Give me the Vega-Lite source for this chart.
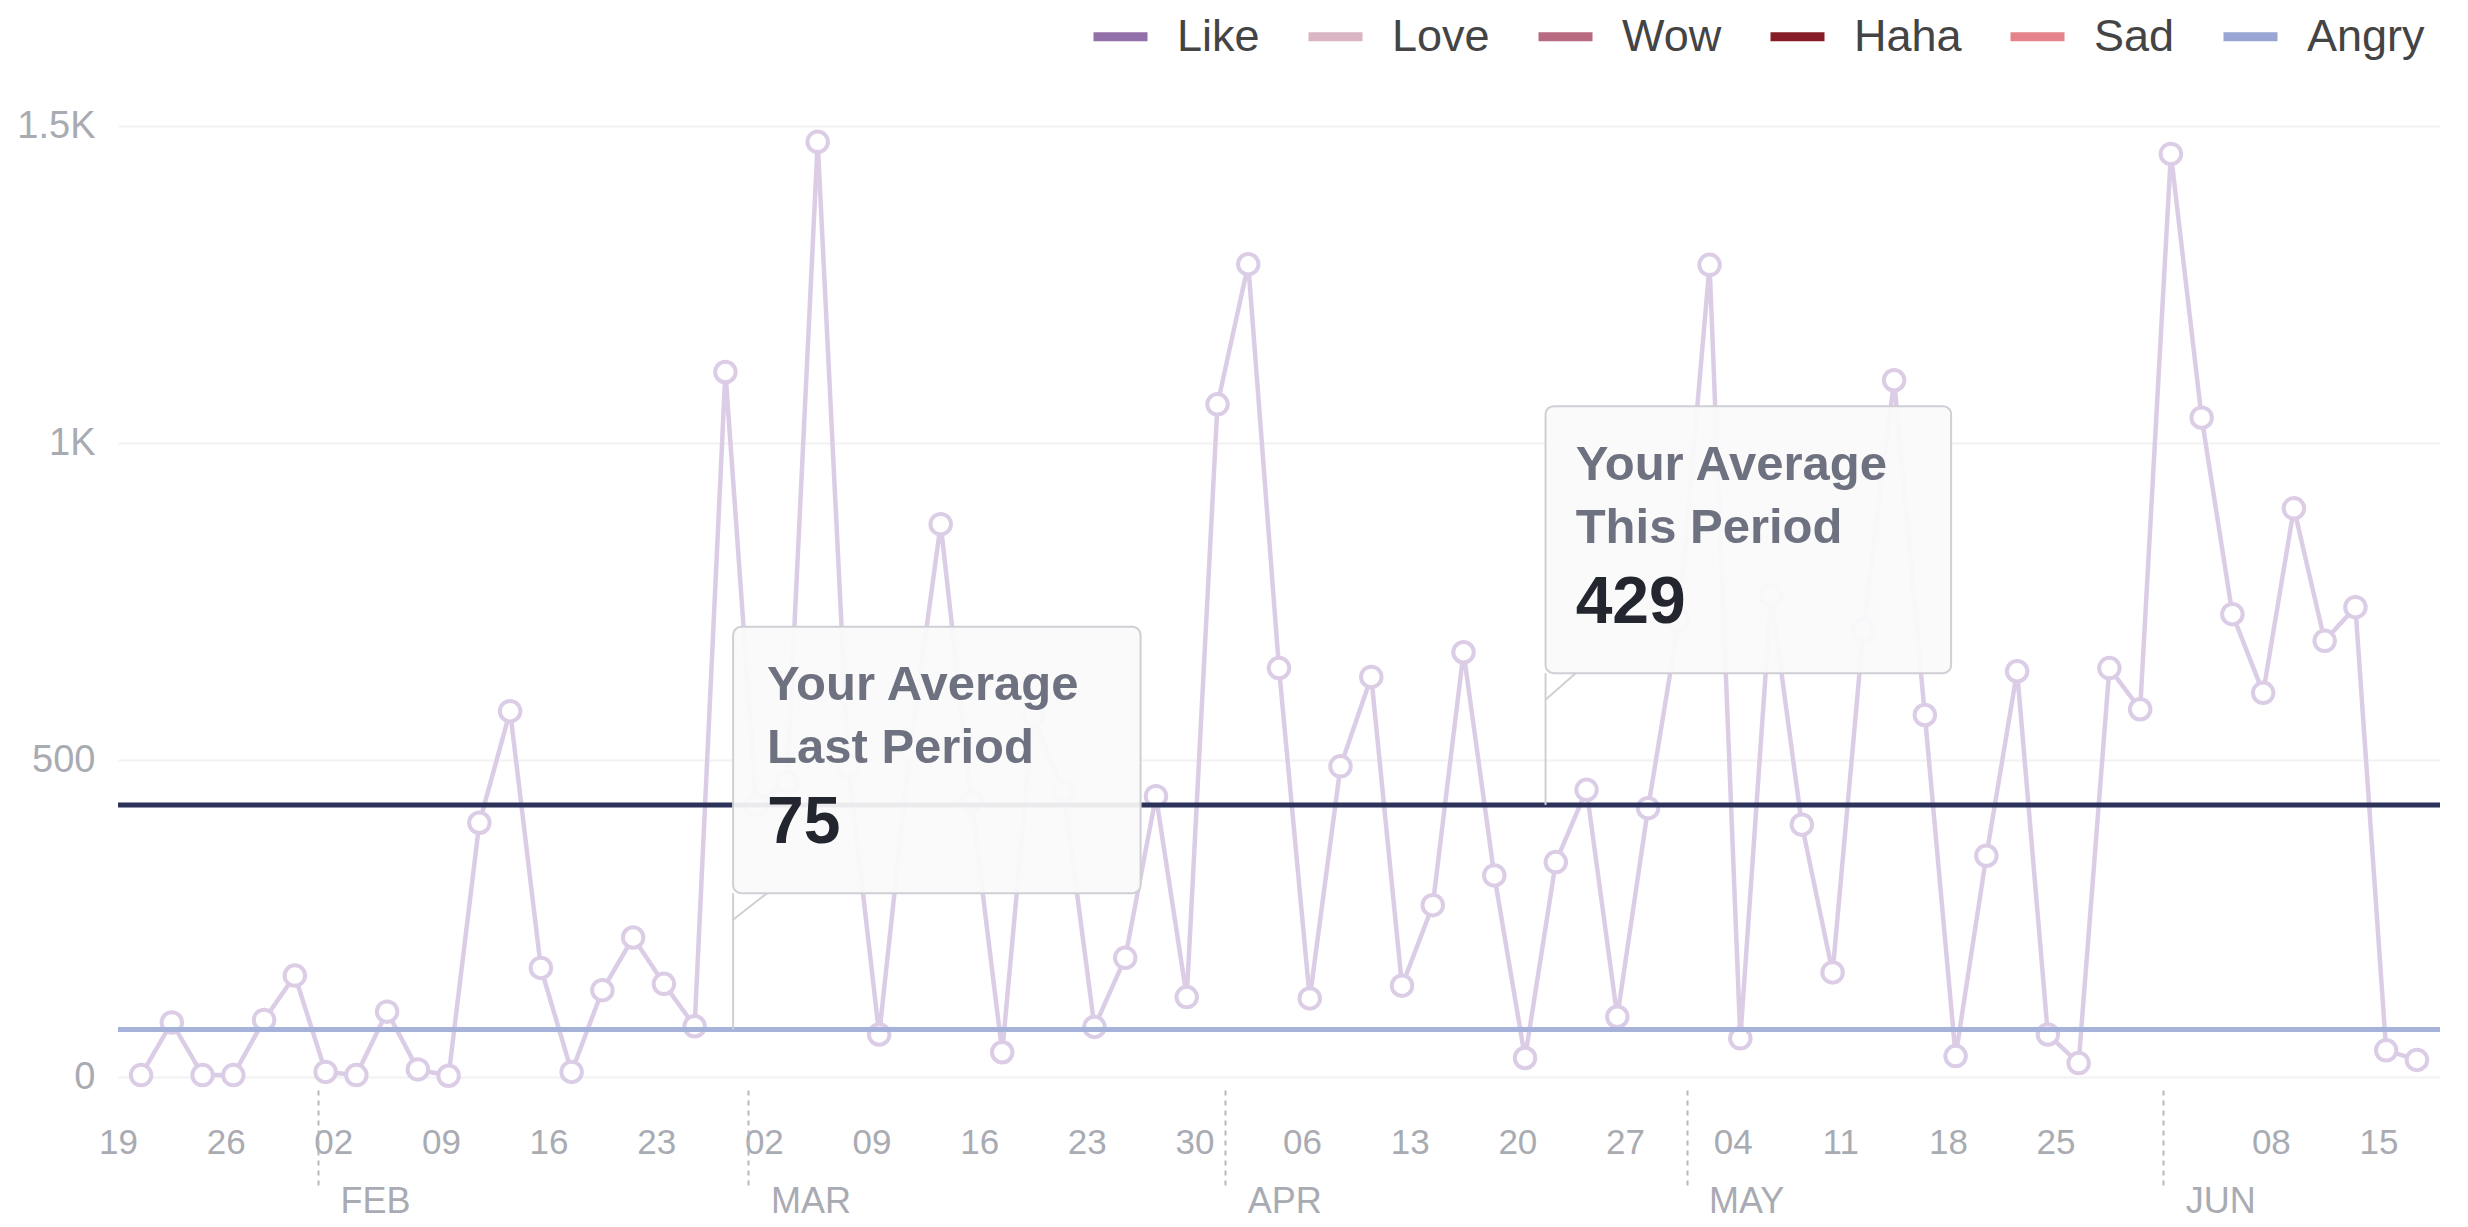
{
  "$schema": "https://vega.github.io/schema/vega-lite/v6.json",
  "autosize": {"type": "none"},
  "padding": {"left": 118, "top": 126, "right": 28, "bottom": 150},
  "width": 2322,
  "height": 951,
  "background": "white",
  "config": {
    "view": {"stroke": null},
    "font": "Liberation Sans"
  },
  "datasets": {
    "series": [
      {"d": "2025-01-20T12:00:00", "v": 3},
      {"d": "2025-01-22T12:00:00", "v": 86},
      {"d": "2025-01-24T12:00:00", "v": 3},
      {"d": "2025-01-26T12:00:00", "v": 3},
      {"d": "2025-01-28T12:00:00", "v": 90},
      {"d": "2025-01-30T12:00:00", "v": 160},
      {"d": "2025-02-01T12:00:00", "v": 8},
      {"d": "2025-02-03T12:00:00", "v": 3},
      {"d": "2025-02-05T12:00:00", "v": 103},
      {"d": "2025-02-07T12:00:00", "v": 12},
      {"d": "2025-02-09T12:00:00", "v": 2},
      {"d": "2025-02-11T12:00:00", "v": 401},
      {"d": "2025-02-13T12:00:00", "v": 577},
      {"d": "2025-02-15T12:00:00", "v": 172},
      {"d": "2025-02-17T12:00:00", "v": 8},
      {"d": "2025-02-19T12:00:00", "v": 137},
      {"d": "2025-02-21T12:00:00", "v": 220},
      {"d": "2025-02-23T12:00:00", "v": 147},
      {"d": "2025-02-25T12:00:00", "v": 80},
      {"d": "2025-02-27T12:00:00", "v": 1112},
      {"d": "2025-03-01T12:00:00", "v": 430},
      {"d": "2025-03-03T12:00:00", "v": 465},
      {"d": "2025-03-05T12:00:00", "v": 1475},
      {"d": "2025-03-07T12:00:00", "v": 490},
      {"d": "2025-03-09T12:00:00", "v": 67},
      {"d": "2025-03-11T12:00:00", "v": 516},
      {"d": "2025-03-13T12:00:00", "v": 872},
      {"d": "2025-03-15T12:00:00", "v": 435},
      {"d": "2025-03-17T12:00:00", "v": 39},
      {"d": "2025-03-19T12:00:00", "v": 570},
      {"d": "2025-03-21T12:00:00", "v": 450},
      {"d": "2025-03-23T12:00:00", "v": 79},
      {"d": "2025-03-25T12:00:00", "v": 188},
      {"d": "2025-03-27T12:00:00", "v": 443},
      {"d": "2025-03-29T12:00:00", "v": 126},
      {"d": "2025-03-31T12:00:00", "v": 1061},
      {"d": "2025-04-02T12:00:00", "v": 1282},
      {"d": "2025-04-04T12:00:00", "v": 645},
      {"d": "2025-04-06T12:00:00", "v": 124},
      {"d": "2025-04-08T12:00:00", "v": 490},
      {"d": "2025-04-10T12:00:00", "v": 631},
      {"d": "2025-04-12T12:00:00", "v": 144},
      {"d": "2025-04-14T12:00:00", "v": 271},
      {"d": "2025-04-16T12:00:00", "v": 670},
      {"d": "2025-04-18T12:00:00", "v": 318},
      {"d": "2025-04-20T12:00:00", "v": 30},
      {"d": "2025-04-22T12:00:00", "v": 339},
      {"d": "2025-04-24T12:00:00", "v": 453},
      {"d": "2025-04-26T12:00:00", "v": 95},
      {"d": "2025-04-28T12:00:00", "v": 424},
      {"d": "2025-04-30T12:00:00", "v": 720},
      {"d": "2025-05-02T12:00:00", "v": 1281},
      {"d": "2025-05-04T12:00:00", "v": 61},
      {"d": "2025-05-06T12:00:00", "v": 760},
      {"d": "2025-05-08T12:00:00", "v": 398},
      {"d": "2025-05-10T12:00:00", "v": 165},
      {"d": "2025-05-12T12:00:00", "v": 705},
      {"d": "2025-05-14T12:00:00", "v": 1099},
      {"d": "2025-05-16T12:00:00", "v": 571},
      {"d": "2025-05-18T12:00:00", "v": 33},
      {"d": "2025-05-20T12:00:00", "v": 349},
      {"d": "2025-05-22T12:00:00", "v": 640},
      {"d": "2025-05-24T12:00:00", "v": 67},
      {"d": "2025-05-26T12:00:00", "v": 22},
      {"d": "2025-05-28T12:00:00", "v": 645},
      {"d": "2025-05-30T12:00:00", "v": 580},
      {"d": "2025-06-01T12:00:00", "v": 1456},
      {"d": "2025-06-03T12:00:00", "v": 1040},
      {"d": "2025-06-05T12:00:00", "v": 730},
      {"d": "2025-06-07T12:00:00", "v": 606},
      {"d": "2025-06-09T12:00:00", "v": 897},
      {"d": "2025-06-11T12:00:00", "v": 688},
      {"d": "2025-06-13T12:00:00", "v": 741},
      {"d": "2025-06-15T12:00:00", "v": 42},
      {"d": "2025-06-17T12:00:00", "v": 27}
    ],
    "reactions": [
      {"reaction": "Like", "d": "2025-01-19T00:00:00", "v": 0},
      {"reaction": "Love", "d": "2025-01-19T00:00:00", "v": 0},
      {"reaction": "Wow", "d": "2025-01-19T00:00:00", "v": 0},
      {"reaction": "Haha", "d": "2025-01-19T00:00:00", "v": 0},
      {"reaction": "Sad", "d": "2025-01-19T00:00:00", "v": 0},
      {"reaction": "Angry", "d": "2025-01-19T00:00:00", "v": 0}
    ],
    "averages": [
      {"period": "This Period", "v": 429},
      {"period": "Last Period", "v": 75}
    ],
    "boxes": [
      {"x0": "2025-02-28T00:00:00", "x1": "2025-03-26T12:00:00", "top": 710, "bottom": 290, "anchor": 75, "tailx": "2025-03-02T05:00:00", "tailv": 248},
      {"x0": "2025-04-21T20:00:00", "x1": "2025-05-18T05:00:00", "top": 1058, "bottom": 637, "anchor": 429, "tailx": "2025-04-23T19:00:00", "tailv": 595}
    ],
    "texts": [
      {"d": "2025-03-02T05:00:00", "v": 595, "text": "Your Average", "kind": "title"},
      {"d": "2025-03-02T05:00:00", "v": 495, "text": "Last Period", "kind": "title"},
      {"d": "2025-03-02T05:00:00", "v": 369, "text": "75", "kind": "number"},
      {"d": "2025-04-23T19:00:00", "v": 942, "text": "Your Average", "kind": "title"},
      {"d": "2025-04-23T19:00:00", "v": 842, "text": "This Period", "kind": "title"},
      {"d": "2025-04-23T19:00:00", "v": 716, "text": "429", "kind": "number"}
    ]
  },
  "resolve": {"axis": {"x": "independent"}},
  "layer": [
    {
      "data": {"name": "series"},
      "mark": {"type": "line", "color": "#dccde6", "strokeWidth": 4.5},
      "encoding": {
        "x": {
          "field": "d", "type": "temporal",
          "scale": {"domain": [{"year": 2025, "month": 1, "date": 19}, {"year": 2025, "month": 6, "date": 19}]},
          "axis": {
            "orient": "bottom",
            "title": null, "format": "%d", "domain": false, "grid": false, "ticks": false,
            "labelFlush": false, "labelOverlap": false,
            "labelFontSize": 35, "labelColor": "#a9abb3", "labelPadding": 48, "labelBaseline": "top",
            "values": [
              {"year": 2025, "month": 1, "date": 19}, {"year": 2025, "month": 1, "date": 26},
              {"year": 2025, "month": 2, "date": 2}, {"year": 2025, "month": 2, "date": 9},
              {"year": 2025, "month": 2, "date": 16}, {"year": 2025, "month": 2, "date": 23},
              {"year": 2025, "month": 3, "date": 2}, {"year": 2025, "month": 3, "date": 9},
              {"year": 2025, "month": 3, "date": 16}, {"year": 2025, "month": 3, "date": 23},
              {"year": 2025, "month": 3, "date": 30}, {"year": 2025, "month": 4, "date": 6},
              {"year": 2025, "month": 4, "date": 13}, {"year": 2025, "month": 4, "date": 20},
              {"year": 2025, "month": 4, "date": 27}, {"year": 2025, "month": 5, "date": 4},
              {"year": 2025, "month": 5, "date": 11}, {"year": 2025, "month": 5, "date": 18},
              {"year": 2025, "month": 5, "date": 25}, {"year": 2025, "month": 6, "date": 8},
              {"year": 2025, "month": 6, "date": 15}
            ]
          }
        },
        "y": {
          "field": "v", "type": "quantitative",
          "scale": {"domain": [0, 1500], "nice": false, "zero": true},
          "axis": {
            "title": null, "values": [0, 500, 1000, 1500], "domain": false, "ticks": false,
            "grid": true, "gridColor": "#f2f2f4", "gridWidth": 2, "labelFlush": false,
            "labelFontSize": 38, "labelColor": "#a9abb3", "labelPadding": 23,
            "labelExpr": "datum.value >= 1000 ? format(datum.value / 1000, '~g') + 'K' : format(datum.value, 'd')"
          }
        }
      }
    },
    {
      "data": {"name": "series"},
      "mark": {"type": "point", "shape": "circle", "filled": true, "fill": "white", "stroke": "#dccde6", "strokeWidth": 4, "size": 420, "opacity": 1},
      "encoding": {
        "x": {"field": "d", "type": "temporal", "axis": null},
        "y": {"field": "v", "type": "quantitative", "title": null}
      }
    },
    {
      "data": {"name": "averages"},
      "transform": [{"filter": "datum.period === 'This Period'"}],
      "mark": {"type": "rule", "color": "#2c3259", "strokeWidth": 5},
      "encoding": {
        "y": {"field": "v", "type": "quantitative", "title": null}
      }
    },
    {
      "data": {"name": "averages"},
      "transform": [{"filter": "datum.period === 'Last Period'"}],
      "mark": {"type": "rule", "color": "#a6b2da", "strokeWidth": 5},
      "encoding": {
        "y": {"field": "v", "type": "quantitative", "title": null}
      }
    },
    {
      "data": {"name": "reactions"},
      "mark": {"type": "line", "strokeWidth": 9},
      "encoding": {
        "x": {"field": "d", "type": "temporal", "axis": null},
        "y": {"field": "v", "type": "quantitative", "title": null},
        "color": {
          "field": "reaction", "type": "nominal",
          "scale": {
            "domain": ["Like", "Love", "Wow", "Haha", "Sad", "Angry"],
            "range": ["#9470aa", "#dab5c4", "#b76a80", "#861c26", "#e6828a", "#98a5d5"]
          },
          "legend": {
            "title": null, "orient": "none", "direction": "horizontal",
            "legendX": 971, "legendY": -121, "padding": 0,
            "symbolType": "stroke", "symbolSize": 2916, "symbolStrokeWidth": 9, "symbolOpacity": 1,
            "labelFontSize": 45, "labelColor": "#444444", "labelOffset": 25, "columnPadding": 30,
            "labelFont": "Liberation Sans"
          }
        }
      }
    },
    {
      "data": {"name": "boxes"},
      "mark": {"type": "rule", "color": "#cfd0d5", "strokeWidth": 2},
      "encoding": {
        "x": {"field": "x0", "type": "temporal", "axis": null},
        "y": {"field": "anchor", "type": "quantitative", "title": null},
        "y2": {"field": "bottom"}
      }
    },
    {
      "data": {"name": "boxes"},
      "mark": {"type": "rect", "fill": "#fafafa", "fillOpacity": 0.93, "stroke": "#cfd0d5", "strokeWidth": 2, "cornerRadius": 8},
      "encoding": {
        "x": {
          "field": "x0", "type": "temporal",
          "axis": {
            "orient": "bottom",
            "title": null, "domain": false, "grid": false, "labelFlush": false, "labelOverlap": false,
            "values": [
              {"year": 2025, "month": 2, "date": 1}, {"year": 2025, "month": 3, "date": 1},
              {"year": 2025, "month": 4, "date": 1}, {"year": 2025, "month": 5, "date": 1},
              {"year": 2025, "month": 6, "date": 1}
            ],
            "labelExpr": "upper(timeFormat(datum.value, '%b'))",
            "offset": 13, "ticks": true, "tickSize": 100, "tickDash": [5, 5], "tickColor": "#b8b9c0", "tickWidth": 2,
            "labelAlign": "left", "labelOffset": 22, "labelPadding": -6, "labelBaseline": "top",
            "labelFontSize": 36, "labelColor": "#a9abb3"
          }
        },
        "x2": {"field": "x1"},
        "y": {"field": "top", "type": "quantitative", "title": null},
        "y2": {"field": "bottom"}
      }
    },
    {
      "data": {"name": "boxes"},
      "mark": {"type": "rule", "color": "#cfd0d5", "strokeWidth": 2},
      "encoding": {
        "x": {"field": "x0", "type": "temporal", "axis": null},
        "x2": {"field": "tailx"},
        "y": {"field": "tailv", "type": "quantitative", "title": null},
        "y2": {"field": "bottom"}
      }
    },
    {
      "data": {"name": "texts"},
      "transform": [{"filter": "datum.kind === 'title'"}],
      "mark": {"type": "text", "align": "left", "baseline": "alphabetic", "fontSize": 49, "fontWeight": "bold", "color": "#6e7180"},
      "encoding": {
        "x": {"field": "d", "type": "temporal", "axis": null},
        "y": {"field": "v", "type": "quantitative", "title": null},
        "text": {"field": "text"}
      }
    },
    {
      "data": {"name": "texts"},
      "transform": [{"filter": "datum.kind === 'number'"}],
      "mark": {"type": "text", "align": "left", "baseline": "alphabetic", "fontSize": 66, "fontWeight": "bold", "color": "#23262f"},
      "encoding": {
        "x": {"field": "d", "type": "temporal", "axis": null},
        "y": {"field": "v", "type": "quantitative", "title": null},
        "text": {"field": "text"}
      }
    }
  ]
}
